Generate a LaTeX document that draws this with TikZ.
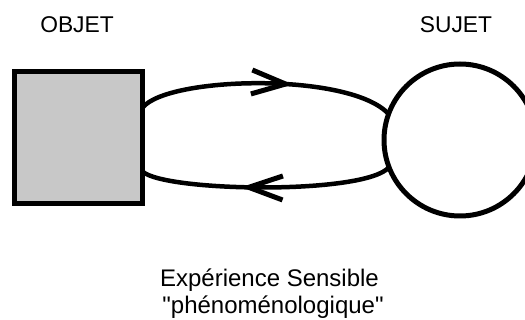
\documentclass[tikz,border=0pt]{standalone}
\usepackage{fontspec}
\setmainfont{Liberation Sans}[Ligatures=TeXOff]
\usetikzlibrary{decorations.markings}
\definecolor{boxgray}{RGB}{200,200,200}
\begin{document}
\begin{tikzpicture}[x=1pt,y=-1pt,
  objbox/.style={draw=black,line width=5pt,fill=boxgray,minimum width=128pt,minimum height=132pt,inner sep=0pt,outer sep=0pt},
  subjcirc/.style={circle,draw=black,line width=5pt,minimum size=152pt,inner sep=0pt,outer sep=0pt},
  title/.style={font=\fontsize{22.8}{26}\selectfont,anchor=base,inner sep=0pt},
  caption/.style={font=\fontsize{24}{27}\selectfont,anchor=base,inner sep=0pt},
  flow/.style={line width=4.5pt,decoration={markings,mark=at position #1 with {\draw[line width=5pt] (-34pt,12pt) -- (0pt,0pt) -- (-34pt,-12pt);}},postaction=decorate}
]
\useasboundingbox (0,0) rectangle (525,320);
\node[objbox] (obj) at (78.5,137.5) {};
\node[subjcirc] (subj) at (460,140) {};
\node[title] (tobj) at (77,32.7) {OBJET};
\node[title] (tsubj) at (456,32.7) {SUJET};
\node[caption] (cap1) at (269.5,286.7) {Expérience Sensible};
\node[caption] (cap2) at (273,314) {"phénoménologique"};
\draw[flow=0.575] (obj.25) .. controls (168,76) and (350,72) .. (subj.160);
\draw[flow=0.57] (subj.201) .. controls (365,195) and (165,192) .. (obj.-28);
\end{tikzpicture}
\end{document}
